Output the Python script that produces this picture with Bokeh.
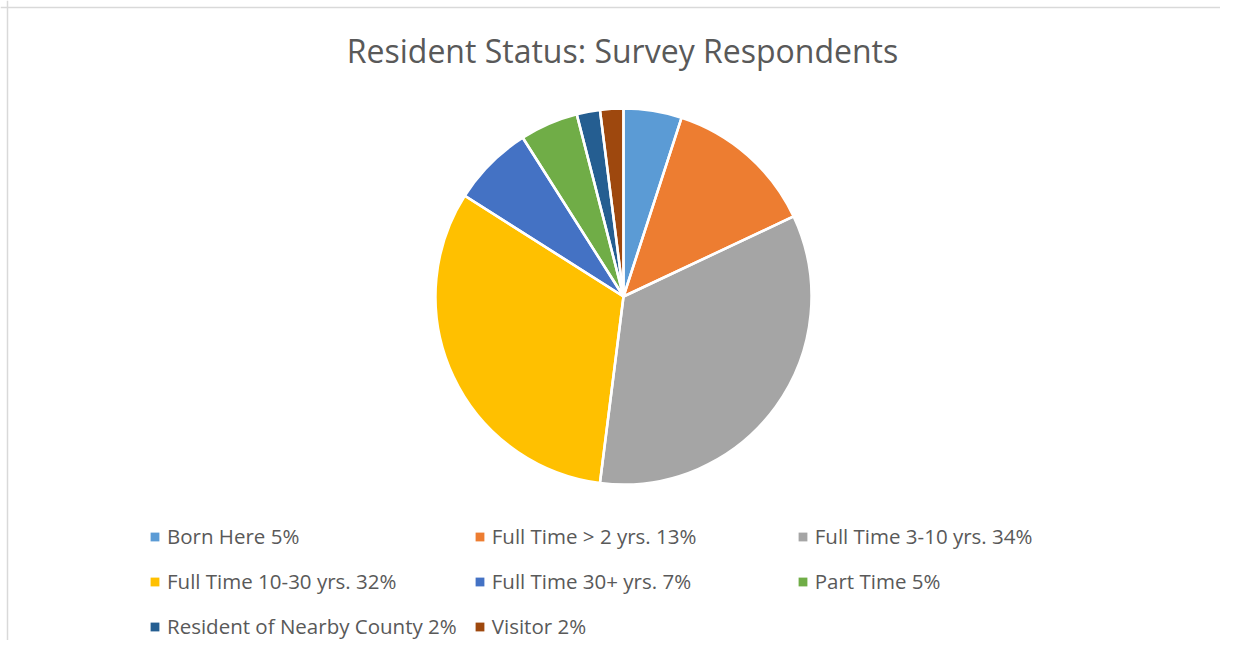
import math
from bokeh.plotting import figure
from bokeh.models import Range1d, Legend, LegendItem, Label, Span, ColumnDataSource
from bokeh.embed import file_html
from bokeh.resources import INLINE

# ---- data ----
title_text = "Resident Status: Survey Respondents"
categories = ["Born Here", "Full Time > 2 yrs.", "Full Time 3-10 yrs.", "Full Time 10-30 yrs.",
              "Full Time 30+ yrs.", "Part Time", "Resident of Nearby County", "Visitor"]
percents = [5, 13, 34, 32, 7, 5, 2, 2]
colors = ["#5B9BD5", "#ED7D31", "#A5A5A5", "#FFC000", "#4472C4", "#70AD47", "#255E91", "#9E480E"]

W, H = 1220, 640
FONT = "Open Sans"
TXT = "#595959"

total = float(sum(percents))
starts, ends = [], []
cum = 0.0
for v in percents:
    starts.append(math.pi / 2 - 2 * math.pi * cum / total)
    cum += v
    ends.append(math.pi / 2 - 2 * math.pi * cum / total)

labels = [f"{c} {v}%" for c, v in zip(categories, percents)]
src = ColumnDataSource(dict(start=starts, end=ends, color=colors, label=labels))

p = figure(width=W, height=H, output_backend="svg", toolbar_location=None,
           x_range=Range1d(0, W), y_range=Range1d(0, H), min_border=0,
           x_axis_type=None, y_axis_type=None)
p.grid.visible = False
p.outline_line_color = None
p.background_fill_color = "white"
p.border_fill_color = "white"

cx, cy, r = 623, 344, 188
pie = p.wedge(x=cx, y=cy, radius=r, start_angle="start", end_angle="end", direction="clock",
              fill_color="color", line_color=None, source=src)
p.wedge(x=cx, y=cy, radius=r, start_angle="start", end_angle="end", direction="clock",
        fill_color=None, line_color="white", line_width=2.5, source=src)

p.add_layout(Label(x=622, y=590, text=title_text, text_align="center", text_baseline="alphabetic",
                   text_font=FONT, text_font_size="32px", text_color=TXT))

p.add_layout(Span(location=7, dimension="height", line_color="#D9D9D9", line_width=1.5))
p.add_layout(Span(location=H - 7, dimension="width", line_color="#D9D9D9", line_width=1.5))

items = [LegendItem(label=lab, renderers=[pie], index=i) for i, lab in enumerate(labels)]
legend = Legend(items=items, orientation="horizontal", ncols=3, location=(149, 0),
                padding=0, margin=0, spacing=17, glyph_width=11, glyph_height=11,
                label_standoff=7, label_width=288, label_text_font=FONT,
                label_text_font_size="20.5px", label_text_color=TXT,
                border_line_color=None, background_fill_alpha=0)
p.add_layout(legend, "center")

open("out.html", "w").write(file_html(p, INLINE))
